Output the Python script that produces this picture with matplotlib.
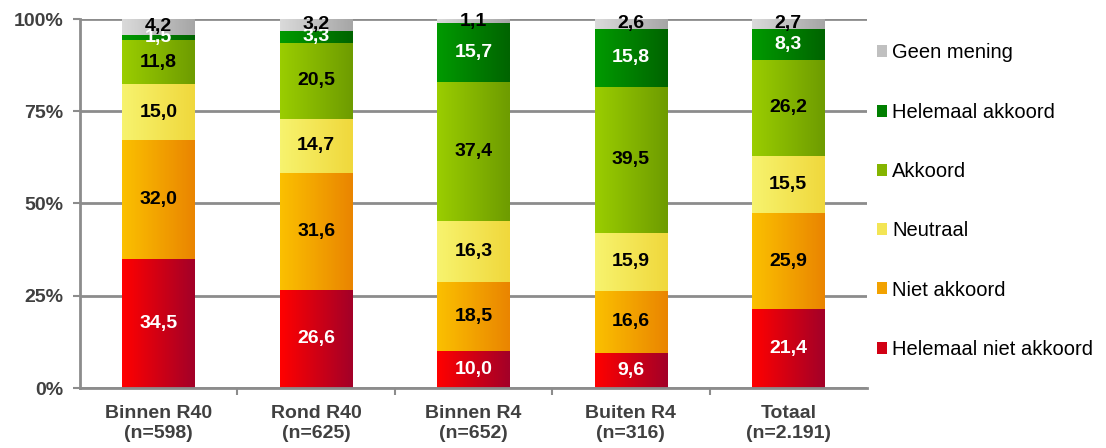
import matplotlib.pyplot as plt
import matplotlib.colors as mcolors
from matplotlib.patches import Patch
import numpy as np

plt.rcParams['font.family'] = ['Liberation Sans', 'DejaVu Sans']

categories = ['Binnen R40\n(n=598)', 'Rond R40\n(n=625)', 'Binnen R4\n(n=652)',
              'Buiten R4\n(n=316)', 'Totaal\n(n=2.191)']
series = ['Helemaal niet akkoord', 'Niet akkoord', 'Neutraal', 'Akkoord',
          'Helemaal akkoord', 'Geen mening']
values = [
    [34.5, 26.6, 10.0, 9.6, 21.4],
    [32.0, 31.6, 18.5, 16.6, 25.9],
    [15.0, 14.7, 16.3, 15.9, 15.5],
    [11.8, 20.5, 37.4, 39.5, 26.2],
    [1.5, 3.3, 15.7, 15.8, 8.3],
    [4.2, 3.2, 1.1, 2.6, 2.7],
]
# left/right colour of the horizontal gradient per series
grad = [
    ('#ff0000', '#a30028'),
    ('#fbc000', '#ea8500'),
    ('#f7f36e', '#f0d83c'),
    ('#9acd00', '#6e9c00'),
    ('#009a00', '#006400'),
    ('#dadada', '#a6a6a6'),
]
text_col = ['white', 'black', 'black', 'black', 'white', 'black']

fig = plt.figure(figsize=(11.06, 4.48), dpi=100)
ax = fig.add_axes([80 / 1106, 1 - 388 / 448, (867 - 80) / 1106, (388 - 19) / 448])

vals_arr = np.array(values)
shares = vals_arr / vals_arr.sum(axis=0) * 100  # 100% stacked

x = np.arange(len(categories))
width = 0.46
bottoms = np.zeros(len(categories))
g = np.linspace(0, 1, 64).reshape(1, -1)
for s in range(len(series)):
    cmap = mcolors.LinearSegmentedColormap.from_list('g%d' % s, grad[s])
    for i in range(len(categories)):
        h = shares[s, i]
        ax.imshow(g, cmap=cmap, aspect='auto', interpolation='bilinear',
                  extent=[x[i] - width / 2, x[i] + width / 2, bottoms[i], bottoms[i] + h],
                  zorder=2)
        ax.text(x[i], bottoms[i] + h / 2, f'{values[s][i]:.1f}'.replace('.', ','),
                ha='center', va='center', fontsize=14, fontweight='bold',
                color=text_col[s], zorder=4)
    bottoms += shares[s]

ax.set_xlim(-0.5, len(categories) - 0.5)
ax.set_ylim(0, 100)
ax.set_yticks([0, 25, 50, 75, 100])
ax.set_yticklabels(['0%', '25%', '50%', '75%', '100%'])
ax.set_xticks(x)
ax.set_xticklabels(categories, linespacing=1.25)
ax.set_xticks(np.arange(len(categories) - 1) + 0.5, minor=True)
ax.tick_params(axis='x', which='major', length=0, pad=12)
ax.tick_params(axis='x', which='minor', length=5, color='#8c8c8c', width=1.5)
ax.tick_params(axis='y', length=5, color='#8c8c8c', width=1.5, pad=7)
for lab in ax.get_xticklabels() + ax.get_yticklabels():
    lab.set_fontweight('bold')
    lab.set_color('#404040')
    lab.set_fontsize(14)

ax.yaxis.grid(True, color='#8c8c8c', linewidth=2, zorder=0)
ax.set_axisbelow(True)
for side in ['top', 'right']:
    ax.spines[side].set_visible(False)
ax.spines['left'].set_color('#8c8c8c')
ax.spines['left'].set_linewidth(2)
ax.spines['bottom'].set_color('#8c8c8c')
ax.spines['bottom'].set_linewidth(2)

handles = [Patch(facecolor=mcolors.to_hex(np.mean([mcolors.to_rgb(c) for c in grad[s]], axis=0)),
                 label=series[s]) for s in range(len(series))][::-1]
ax.legend(handles=handles, loc='upper left', bbox_to_anchor=(0.995, 0.972),
          frameon=False, fontsize=14.5, handlelength=0.5, handleheight=0.55,
          handletextpad=0.25, labelspacing=2.0, borderaxespad=0.3)

fig.savefig('out.png', dpi=100)
